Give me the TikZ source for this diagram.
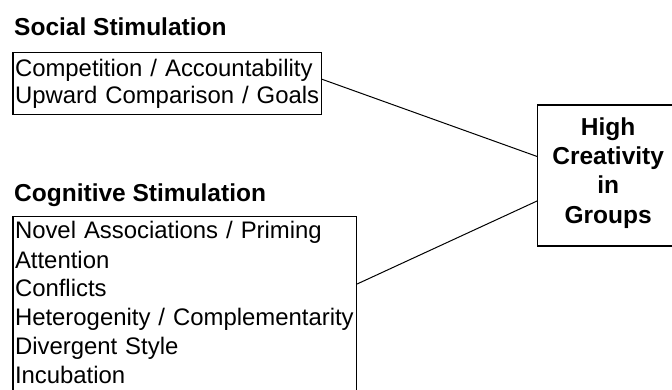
\documentclass[tikz,border=0pt]{standalone}
\usepackage{fontspec}
\setmainfont{Liberation Sans}
\usepackage{tikz}

\begin{document}
\begin{tikzpicture}[x=1pt,y=-1pt,
  head/.style={anchor=base west,inner sep=0pt,font=\fontsize{24.5}{29}\selectfont\bfseries},
  factors/.style={draw,line width=1.4pt,anchor=north west,inner xsep=2pt,inner ysep=0pt,
    align=left,font=\fontsize{23.9}{#1}\selectfont},
  frame/.style={line width=1.4pt},
  link/.style={line width=1pt}]
  \useasboundingbox (0,0) rectangle (672,390);
  \clip (0,0) rectangle (672,390);

  % Soziale Stimulation (oben)
  \node[head] (socialhead) at (14,36) {Social Stimulation};
  \node[factors=27.3,text width=304.4pt,text height=24.3pt,text depth=38pt] (social) at (12.3,51.7)
    {Competition / Accountability\\Upward Comparison / Goals};

  % Kognitive Stimulation (unten, Kasten unten abgeschnitten)
  \node[head] (coghead) at (14,201.5) {Cognitive Stimulation};
  \node[factors=29,text width=339.4pt,text height=22.6pt,text depth=200pt] (cog) at (12.3,215.7)
    {Novel Associations / Priming\\Attention\\Conflicts\\Heterogenity / Complementarity\\Divergent Style\\Incubation};

  % Ergebnis (rechts, Kasten rechts abgeschnitten)
  \node[anchor=north west,inner sep=0pt,text width=140.6pt,align=center,
    text height=30pt,text depth=110.5pt,font=\fontsize{24.5}{29.4}\selectfont\bfseries]
    (high) at (537.7,105) {High\\Creativity\\in\\Groups};
  \draw[frame] ([xshift=20pt]high.north east) -- (high.north west)
    -- (high.south west) -- ([xshift=20pt]high.south east);

  % Verbindungen
  \draw[link] ([yshift=-27.6pt]social.north east) -- ([yshift=-51.7pt]high.north west);
  \draw[link] ([yshift=-68.3pt]cog.north east) -- ([yshift=-95.7pt]high.north west);
\end{tikzpicture}
\end{document}
